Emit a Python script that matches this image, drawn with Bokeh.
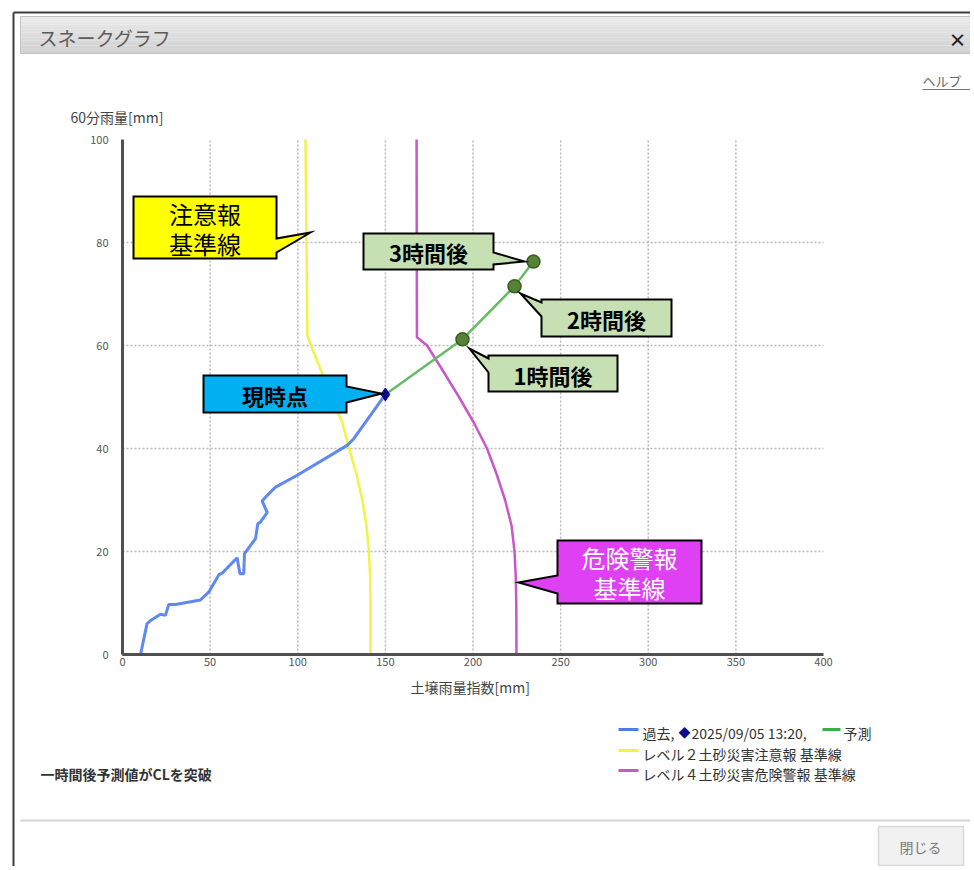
from bokeh.plotting import figure
from bokeh.models import Range1d, LinearAxis, FixedTicker
from bokeh.core.properties import value
from bokeh.embed import file_html
from bokeh.resources import INLINE

# ---------------- data ----------------
x_ticks = [0, 50, 100, 150, 200, 250, 300, 350, 400]
y_ticks = [0, 20, 40, 60, 80, 100]
x_grid = [50, 100, 150, 200, 250, 300, 350]
y_grid = [20, 40, 60, 80]

# past snake (soil water index vs 60-min rainfall)
past_x = [0, 10.3, 14, 16, 21.7, 24.5, 26.4, 30.2, 44.5, 49.2, 55, 56.9, 65.4, 67, 69.2,
          69.6, 75.9, 77.2, 78.7, 82.6, 79.7, 82.6, 87.3, 99.7, 128.2, 132, 150]
past_y = [0, 0, 6.0, 6.6, 7.8, 7.6, 9.7, 9.7, 10.6, 12.1, 15.5, 15.8, 18.8, 15.7, 15.7,
          19.6, 22.5, 25.4, 25.7, 27.6, 29.8, 30.9, 32.5, 34.8, 40.6, 41.9, 50.5]
now_x = [150]
now_y = [50.5]
fc_x = [194, 223.7, 234.5]
fc_y = [61.2, 71.5, 76.3]

# level-2 (caution) criterion line
cl2_y = [100, 80, 62, 60, 55, 50, 45, 41, 35, 30, 25, 20, 15, 10, 0]
cl2_x = [104.4, 105, 105.5, 107.5, 113.5, 119, 125.5, 128.5, 133.5, 136.8, 139.2, 140.6, 141.3, 141.5, 141.5]
# level-4 (warning) criterion line
cl4_y = [100, 61.6, 60, 55, 50, 45, 40, 35, 30, 25, 20, 15, 10, 0]
cl4_x = [167.8, 168, 173.8, 183, 192, 200.5, 208, 213.5, 218.3, 222, 223.7, 224.4, 224.7, 224.8]

title_text = "スネークグラフ"
help_text = "ヘルプ"
close_text = "閉じる"
ylabel_text = "60分雨量[mm]"
xlabel_text = "土壌雨量指数[mm]"
note_text = "一時間後予測値がCLを突破"
leg_past = "過去,"
leg_diamond = "◆"
leg_time = "2025/09/05 13:20,"
leg_fc = "予測"
leg_cl2 = "レベル２土砂災害注意報 基準線"
leg_cl4 = "レベル４土砂災害危険警報 基準線"

C_PAST = "#4f7bef"
C_FC = "#66bb66"
C_CL2 = "#f2f24a"
C_CL4 = "#c858c8"
FONT = value("Noto Sans CJK JP")

# ---------------- geometry ----------------
W, H = 970, 866
OFF = 0                                    # page px of canvas origin
PX0, PX1, PY0, PY1 = 122, 823, 654, 139   # page px of x=0, x=400, y=0, y=100
sx = 400.0 / (PX1 - PX0)
sy = 100.0 / (PY0 - PY1)
x_start = -(PX0 - OFF) * sx
x_end = x_start + W * sx
y_end = 100 + (PY1 - OFF) * sy
y_start = y_end - H * sy


def X(px):
    return x_start + (px - OFF) * sx


def Y(py):
    return y_end - (py - OFF) * sy


p = figure(width=W, height=H, x_range=Range1d(x_start, x_end), y_range=Range1d(y_start, y_end),
           x_axis_type=None, y_axis_type=None, toolbar_location=None, output_backend="svg",
           min_border=0, outline_line_color=None, background_fill_color="white",
           border_fill_color="white")
p.xgrid.visible = False
p.ygrid.visible = False


def txt(px, py, s, size, color="#333333", align="left", bold=False, baseline="middle"):
    p.text(x=[X(px)], y=[Y(py)], text=[s], text_font=FONT, text_font_size=value(size),
           text_color=color, text_align=align, text_baseline=baseline,
           text_font_style="bold" if bold else "normal")


def hline(x0, x1, py, color, width):
    p.segment(x0=[X(x0)], y0=[Y(py)], x1=[X(x1)], y1=[Y(py)], line_color=color, line_width=width)


# ---------------- dialog chrome ----------------
# title bar gradient
top, bot = 16, 53
n = 14
for i in range(n):
    t0 = top + (bot - top) * i / n
    t1 = top + (bot - top) * (i + 1) / n
    c = int(234 - (234 - 208) * i / (n - 1))
    p.quad(left=[X(20)], right=[X(990)], top=[Y(t0)], bottom=[Y(t1)],
           fill_color="#%02x%02x%02x" % (c, c, c), line_color=None)
p.quad(left=[X(20)], right=[X(990)], top=[Y(top)], bottom=[Y(bot)], fill_color=None,
       line_color="#c4c4c4", line_width=1)
p.segment(x0=[X(13)], y0=[Y(12)], x1=[X(990)], y1=[Y(12)], line_color="#3c3c3c", line_width=2)
p.segment(x0=[X(13)], y0=[Y(12)], x1=[X(13)], y1=[Y(900)], line_color="#3c3c3c", line_width=2)
txt(38, 37, title_text, "19px", color="#5a5a5a")
txt(957, 38, "×", "18px", color="#222222", align="center", bold=True)
txt(922, 80, help_text, "13px", color="#666666")
hline(922, 975, 89, "#777777", 1)

# separator and close button
hline(20, 990, 820, "#d4d4d4", 2)
p.quad(left=[X(878)], right=[X(963)], top=[Y(826)], bottom=[Y(865)], fill_color="#f1f1f1",
       line_color="#d8d8d8", line_width=1.5)
txt(920, 846, close_text, "14px", color="#7a7a7a", align="center")

# ---------------- chart ----------------
p.segment(x0=x_grid, y0=[0] * len(x_grid), x1=x_grid, y1=[100] * len(x_grid),
          line_color="#b8b8b8", line_width=1.5, line_dash="2 2")
p.segment(x0=[0] * len(y_grid), y0=y_grid, x1=[400] * len(y_grid), y1=y_grid,
          line_color="#b8b8b8", line_width=1.5, line_dash="2 2")

xaxis = LinearAxis(fixed_location=0, bounds=(0, 400), ticker=FixedTicker(ticks=x_ticks),
                   axis_line_color="#505050", axis_line_width=3,
                   major_tick_in=0, major_tick_out=0, minor_tick_in=0, minor_tick_out=0,
                   major_tick_line_color=None, minor_tick_line_color=None,
                   major_label_text_font_size="11px", major_label_text_color="#555555",
                   major_label_text_font="Noto Sans CJK JP", major_label_standoff=3)
yaxis = LinearAxis(fixed_location=0, bounds=(0, 100), ticker=FixedTicker(ticks=y_ticks),
                   axis_line_color="#505050", axis_line_width=3,
                   major_tick_in=0, major_tick_out=0, minor_tick_in=0, minor_tick_out=0,
                   major_tick_line_color=None, minor_tick_line_color=None,
                   major_label_text_font_size="11px", major_label_text_color="#555555",
                   major_label_text_font="Noto Sans CJK JP", major_label_standoff=14)
p.add_layout(xaxis, "below")
p.add_layout(yaxis, "left")

txt(70, 116, ylabel_text, "14px", color="#444444")
txt(410, 686, xlabel_text, "14px", color="#444444")

p.line(cl2_x, cl2_y, line_color=C_CL2, line_width=2.5)
p.line(cl4_x, cl4_y, line_color=C_CL4, line_width=2.5)
p.line(past_x, past_y, line_color=C_PAST, line_width=3, line_alpha=0.9)
p.line(now_x + fc_x, now_y + fc_y, line_color=C_FC, line_width=2.5)
p.scatter(fc_x, fc_y, size=13, fill_color="#558236", line_color="#3a5e22", line_width=1.5)
p.scatter(now_x, now_y, marker="diamond", size=13, fill_color="#0a0a8a", line_color="#0a0a8a")


# ---------------- callouts ----------------
def callout(box, side, base, tip, fill):
    l, t, r, b = box
    if side == "right":
        pts = [(l, t), (r, t), (r, base[0]), tip, (r, base[1]), (r, b), (l, b)]
    else:
        pts = [(l, t), (r, t), (r, b), (l, b), (l, base[1]), tip, (l, base[0])]
    p.patch([X(a) for a, _ in pts], [Y(c) for _, c in pts], fill_color=fill,
            line_color="black", line_width=2, line_join="miter")


callout((133, 196, 276, 258), "right", (238, 252), (310, 232), "#ffff00")
txt(204.5, 213, "注意報", "24px", color="black", align="center")
txt(204.5, 243, "基準線", "24px", color="black", align="center")

callout((363, 233, 493, 269), "right", (252, 264), (524, 261), "#c6e0b4")
txt(428, 251, "3時間後", "22px", color="black", align="center", bold=True)

callout((541, 299, 671, 336), "left", (302, 316), (520, 293), "#c6e0b4")
txt(606, 318, "2時間後", "22px", color="black", align="center", bold=True)

callout((488, 355, 617, 391), "left", (358, 372), (469, 348), "#c6e0b4")
txt(552.5, 374, "1時間後", "22px", color="black", align="center", bold=True)

callout((203, 375, 346, 412), "right", (386, 402), (381, 393), "#00b0f0")
txt(274.5, 394, "現時点", "22px", color="black", align="center", bold=True)

callout((557, 540, 701, 603), "left", (575, 593), (518, 582), "#e040f4")
txt(629, 557, "危険警報", "24px", color="white", align="center")
txt(629, 587, "基準線", "24px", color="white", align="center")

# ---------------- legend & note ----------------
hline(618, 638, 729, C_PAST, 3)
txt(642, 732, leg_past, "14px", color="#333333")
txt(678, 732, leg_diamond, "12px", color="#0a0a8a")
txt(691, 732, leg_time, "14px", color="#333333")
hline(822, 840, 729, "#3cb043", 3)
txt(843, 732, leg_fc, "14px", color="#333333")
hline(618, 638, 750, C_CL2, 3)
txt(642, 753, leg_cl2, "14px", color="#333333")
hline(618, 638, 770, C_CL4, 3)
txt(642, 773, leg_cl4, "14px", color="#333333")

txt(40, 773, note_text, "14px", color="#333333", bold=True)

open("out.html", "w").write(file_html(p, INLINE))
